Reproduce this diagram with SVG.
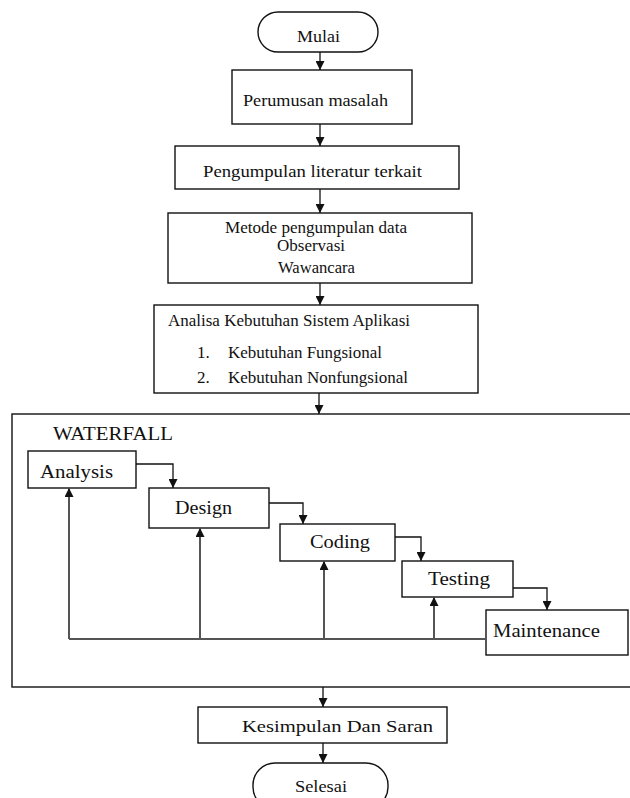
<svg xmlns="http://www.w3.org/2000/svg" width="630" height="798" viewBox="0 0 630 798">
<style>
text{font-family:"Liberation Serif",Tinos,"Times New Roman",Times,"Noto Serif","DejaVu Serif",FreeSerif,serif;fill:#111}
.box{fill:#fff;stroke:#111;stroke-width:1.4}
.t{font-size:17px}
.w{font-size:19px}
.c{fill:none;stroke:#111;stroke-width:1.3}
.fb{fill:none;stroke:#555;stroke-width:2}
</style>
<defs>
<marker id="arr" markerUnits="userSpaceOnUse" markerWidth="9" markerHeight="9" refX="8" refY="4" orient="auto" viewBox="0 0 8 8">
<path d="M0,0 L8,4 L0,8 z" fill="#111"/>
</marker>
</defs>
<rect width="630" height="798" fill="#fff"/>
<g id="frame">
<rect x="12" y="414" width="640" height="273" fill="none" stroke="#111" stroke-width="1.4"/>
<text class="w" x="53" y="440" textLength="120" lengthAdjust="spacingAndGlyphs">WATERFALL</text>
</g>
<g id="mulai">
<rect class="box" x="258" y="12" width="120" height="40" rx="20" ry="20"/>
<text class="t" x="297" y="42" textLength="43" lengthAdjust="spacingAndGlyphs">Mulai</text>
</g>
<g id="perumusan">
<rect class="box" x="232" y="70" width="180" height="54"/>
<text class="t" x="243" y="106" textLength="145" lengthAdjust="spacingAndGlyphs">Perumusan  masalah</text>
</g>
<g id="literatur">
<rect class="box" x="175" y="146" width="284" height="43"/>
<text class="t" x="203" y="177" textLength="219" lengthAdjust="spacingAndGlyphs">Pengumpulan literatur terkait</text>
</g>
<g id="metode">
<rect class="box" x="168" y="213" width="304" height="70"/>
<text class="t" x="225" y="233" textLength="182" lengthAdjust="spacingAndGlyphs">Metode pengumpulan data</text>
<text class="t" x="277" y="251" textLength="68" lengthAdjust="spacingAndGlyphs">Observasi</text>
<text class="t" x="278" y="273" textLength="77" lengthAdjust="spacingAndGlyphs">Wawancara</text>
</g>
<g id="analisa">
<rect class="box" x="154" y="305" width="324" height="88"/>
<text class="t" x="168" y="326" textLength="242" lengthAdjust="spacingAndGlyphs">Analisa Kebutuhan Sistem Aplikasi</text>
<text class="t" x="197" y="358">1.</text>
<text class="t" x="228" y="358" textLength="154" lengthAdjust="spacingAndGlyphs">Kebutuhan Fungsional</text>
<text class="t" x="197" y="383">2.</text>
<text class="t" x="228" y="383" textLength="180" lengthAdjust="spacingAndGlyphs">Kebutuhan Nonfungsional</text>
</g>
<g id="analysis">
<rect class="box" x="28" y="451" width="108" height="37"/>
<text class="w" x="40" y="478" textLength="73" lengthAdjust="spacingAndGlyphs">Analysis</text>
</g>
<g id="design">
<rect class="box" x="149" y="488" width="120" height="40"/>
<text class="w" x="175" y="514" textLength="57" lengthAdjust="spacingAndGlyphs">Design</text>
</g>
<g id="coding">
<rect class="box" x="280" y="524" width="115" height="37"/>
<text class="w" x="310" y="548" textLength="60" lengthAdjust="spacingAndGlyphs">Coding</text>
</g>
<g id="testing">
<rect class="box" x="402" y="561" width="111" height="36"/>
<text class="w" x="428" y="585" textLength="62" lengthAdjust="spacingAndGlyphs">Testing</text>
</g>
<g id="maintenance">
<rect class="box" x="486" y="610" width="142" height="45"/>
<text class="w" x="493" y="637" textLength="107" lengthAdjust="spacingAndGlyphs">Maintenance</text>
</g>
<g id="kesimpulan">
<rect class="box" x="198" y="707" width="249" height="36"/>
<text class="t" x="242" y="732" textLength="191" lengthAdjust="spacingAndGlyphs">Kesimpulan Dan Saran</text>
</g>
<g id="selesai">
<rect class="box" x="253" y="763" width="135" height="46" rx="22" ry="22"/>
<text class="t" x="295" y="792" textLength="52" lengthAdjust="spacingAndGlyphs">Selesai</text>
</g>
<g id="connectors">
<path class="c" d="M320,52 V70" marker-end="url(#arr)"/>
<path class="c" d="M320,124 V146" marker-end="url(#arr)"/>
<path class="c" d="M320,189 V213" marker-end="url(#arr)"/>
<path class="c" d="M320,283 V305" marker-end="url(#arr)"/>
<path class="c" d="M319,393 V414" marker-end="url(#arr)"/>
<path class="c" d="M136,464 H173 V488" marker-end="url(#arr)"/>
<path class="c" d="M269,503 H303 V524" marker-end="url(#arr)"/>
<path class="c" d="M395,537 H421 V561" marker-end="url(#arr)"/>
<path class="c" d="M513,588 H547 V610" marker-end="url(#arr)"/>
<path class="fb" d="M486,639 H69"/>
<path class="fb" d="M69,639 V488" marker-end="url(#arr)"/>
<path class="fb" d="M200,639 V528" marker-end="url(#arr)"/>
<path class="fb" d="M324,639 V561" marker-end="url(#arr)"/>
<path class="fb" d="M434,639 V597" marker-end="url(#arr)"/>
<path class="c" d="M323,687 V707" marker-end="url(#arr)"/>
<path class="c" d="M323,743 V763" marker-end="url(#arr)"/>
</g>
</svg>
